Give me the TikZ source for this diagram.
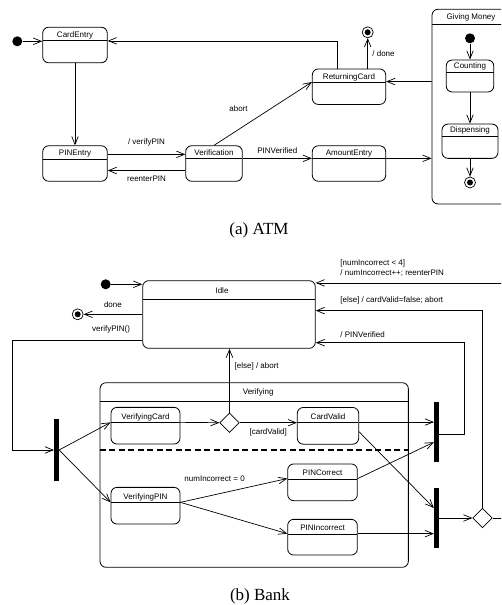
\documentclass[tikz,border=0pt]{standalone}
\usepackage{fontspec}
\setmainfont{Liberation Serif}
\setsansfont{Liberation Sans}
\usetikzlibrary{arrows.meta,shapes.geometric}

\begin{document}
\begin{tikzpicture}[x=1pt, y=-1pt, font=\sffamily\fontsize{8}{9.5}\selectfont, line width=0.7pt, >={Straight Barb[length=8pt,width=6.5pt]},
  divider/.style={path picture={\draw[line width=0.8pt] ([yshift=-#1]path picture bounding box.north west) -- ([yshift=-#1]path picture bounding box.north east);}},
  state/.style={draw, line width=0.8pt, rounded corners=6pt, minimum height=35.5pt, inner sep=0pt, divider=#1}, state/.default=13.5pt,
  title/.style={anchor=base, yshift=-#1, inner sep=0pt}, title/.default=10.5pt,
  initdot/.style={circle, fill, inner sep=0pt, minimum size=10pt},
  finaldot/.style={circle, draw, inner sep=0pt, minimum size=11pt, path picture={\fill (path picture bounding box.center) circle (3pt);}},
  bar/.style={fill, inner sep=0pt, minimum width=4.5pt},
  choice/.style={diamond, draw, inner sep=0pt, minimum size=19.5pt},
  caption/.style={font=\rmfamily\fontsize{17}{20}\selectfont}]
  \useasboundingbox (0,0) rectangle (501,605);
  \clip (0,0) rectangle (501,605);

  %% (a) ATM
  \node [initdot] (atmstart) at (17.3,41.3) {};
  \node [state, minimum width=64.6pt, label={[title]north:CardEntry}] (cardentry) at (75,45) {};
  \node [state, minimum width=64.6pt, label={[title]north:PINEntry}] (pinentry) at (75,163.5) {};
  \node [state=13pt, minimum width=56.6pt, label={[title]north:Verification}] (verification) at (214,163.5) {};
  \node [state=13pt, minimum width=73.4pt, label={[title]north:ReturningCard}] (returningcard) at (349,86.7) {};
  \node [state=13pt, minimum width=73.4pt, label={[title]north:AmountEntry}] (amountentry) at (349,163.5) {};
  \node [finaldot] (atmdone) at (367.7,32.3) {};
  % Giving Money
  \node [state=14.7pt, minimum width=78pt, minimum height=194.7pt, label={[title]north:Giving Money}] (givingmoney) at (471,106.6) {};
  \node [initdot] (gmstart) at (470,38.3) {};
  \node [state=12pt, minimum width=47.6pt, minimum height=32pt, label={[title=8.5pt]north:Counting}] (counting) at (470,76) {};
  \node [state=12.5pt, minimum width=56pt, minimum height=34.3pt, label={[title=9pt]north:Dispensing}] (dispensing) at (470,141.2) {};
  \node [finaldot] (gmdone) at (470,182.5) {};
  \node [caption] (capatm) at (259,230) {(a) ATM};
  % Draw edges
  \draw [->] (atmstart) -- (atmstart -| cardentry.west);
  \draw [->] (cardentry) -- (pinentry);
  \draw [->] ([yshift=-9pt]pinentry.north east) -- ([yshift=-9pt]verification.north west) node[midway, above=5pt] {/ verifyPIN};
  \draw [->] ([yshift=-7pt]verification.west) -- ([yshift=-7pt]pinentry.east) node[midway, below=2pt] {reenterPIN};
  \draw [->] (verification.north) -- ([yshift=-13.5pt]returningcard.north west) node[pos=0.25, above=14pt] {abort};
  \draw [->] ([xshift=-12pt]returningcard.north) |- ([yshift=-14pt]cardentry.north east);
  \draw [->] (atmdone |- returningcard.north) -- (atmdone) node[midway, right=1pt] {/ done};
  \draw [->] ([yshift=-13pt]verification.north east) -- ([yshift=-13pt]amountentry.north west) node[midway, above=1.5pt] {PINVerified};
  \draw [->] ([yshift=-13pt]amountentry.north east) -- ([yshift=-13pt]amountentry.north east -| givingmoney.west);
  \draw [->] ([yshift=-13pt]returningcard.north east -| givingmoney.west) -- ([yshift=-13pt]returningcard.north east);
  \draw [->] (gmstart) -- (counting);
  \draw [->] (counting) -- (dispensing);
  \draw [->] (dispensing) -- (gmdone);

  %% (b) Bank
  \node [initdot] (bankstart) at (105.7,284.3) {};
  \node [state=18.6pt, minimum width=172.6pt, minimum height=67.6pt, label={[title=13.3pt, xshift=-7pt]north:Idle}] (idle) at (229,314.5) {};
  \node [finaldot] (bankdone) at (77.7,314.3) {};
  \node [state=18.3pt, minimum width=308.3pt, minimum height=184.6pt, label={[title=12.3pt, xshift=4pt]north:Verifying}] (verifying) at (254.2,475) {};
  \node [state=15.4pt, minimum width=69pt, minimum height=36.7pt, label={[title=12.8pt]north:VerifyingCard}] (verifyingcard) at (145.5,425.7) {};
  \node [state=15pt, minimum width=61.4pt, minimum height=36.7pt, label={[title=12pt]north:CardValid}] (cardvalid) at (328,425.8) {};
  \node [state=15.4pt, minimum width=69pt, minimum height=36.7pt, label={[title=12.8pt]north:VerifyingPIN}] (verifyingpin) at (145.5,505.7) {};
  \node [state=15pt, minimum width=69.6pt, minimum height=36.7pt, label={[title=12.2pt]north:PINCorrect}] (pincorrect) at (322.5,482.3) {};
  \node [state=14.7pt, minimum width=69.6pt, minimum height=35.7pt, label={[title=12pt]north:PINIncorrect}] (pinincorrect) at (322.5,537.2) {};
  \node [bar, minimum height=61.4pt] (fork) at (56.5,450) {};
  \node [bar, minimum height=60pt] (join1) at (436.5,431.7) {};
  \node [bar, minimum height=60.6pt] (join2) at (436.5,518) {};
  \node [choice] (choice1) at (229.5,422.7) {};
  \node [choice] (choice2) at (482.5,518) {};
  \node [caption] (capbank) at (260,596) {(b) Bank};
  \draw [line width=1.3pt, dash pattern=on 6pt off 3.5pt] ([yshift=-67.6pt]verifying.north west) -- ([yshift=-67.6pt]verifying.north east);
  % Draw edges
  \draw [->] (bankstart) -- (bankstart -| idle.west);
  \draw [->] (bankdone -| idle.west) -- (bankdone) node[midway, above=3.5pt] {done};
  \draw [->] ([yshift=-26.2pt]idle.west) -- ++(-130pt,0pt) node[pos=0.24, above=4pt] {verifyPIN()} |- (fork.west);
  \draw [->] (fork.east) -- ([yshift=-15.4pt]verifyingcard.north west);
  \draw [->] (fork.east) -- ([yshift=-15.4pt]verifyingpin.north west);
  \draw [->] ([yshift=-15.4pt]verifyingcard.north east) -- (choice1.west);
  \draw [->] (choice1.north) -- (choice1 |- idle.south) node[pos=0.72, right=1.5pt] {[else] / abort};
  \draw [->] (choice1.east) -- (choice1 -| cardvalid.west) node[midway, below=2pt] {[cardValid]};
  \draw [->] ([yshift=-15pt]cardvalid.north east) -- ([yshift=-15pt]cardvalid.north east -| join1.west);
  \draw [->] ([yshift=-6pt]cardvalid.east) -- ([yshift=10pt]join2.west);
  \draw [->] ([yshift=-15.4pt]verifyingpin.north east) -- ([yshift=-15pt]pincorrect.north west) node[pos=0.32, above=9pt] {numIncorrect = 0};
  \draw [->] ([yshift=-15.4pt]verifyingpin.north east) -- ([yshift=-14.7pt]pinincorrect.north west);
  \draw [->] ([yshift=-15pt]pincorrect.north east) -- ([yshift=-10.5pt]join1.west);
  \draw [->] ([yshift=-14.7pt]pinincorrect.north east) -- ([yshift=-14.7pt]pinincorrect.north east -| join2.west);
  \draw [->] (join2.east) -- (choice2.west);
  \draw [->] ([yshift=-2.3pt]join1.east) -- ++(25pt,0pt) |- ([yshift=6pt]idle.south east) node[pos=1, anchor=south west, xshift=21pt, yshift=1.5pt] {/ PINVerified};
  \draw [->] (choice2.north) |- ([yshift=-30.3pt]idle.north east) node[pos=1, anchor=south west, xshift=21pt, yshift=3pt] {[else] / cardValid=false; abort};
  \draw [->] (choice2.east) -- ++(25pt,0pt) |- ([yshift=-2.6pt]idle.north east) node[pos=1, anchor=south west, xshift=21pt, yshift=3pt, align=left] {[numIncorrect < 4]\\ / numIncorrect++; reenterPIN};
\end{tikzpicture}
\end{document}
